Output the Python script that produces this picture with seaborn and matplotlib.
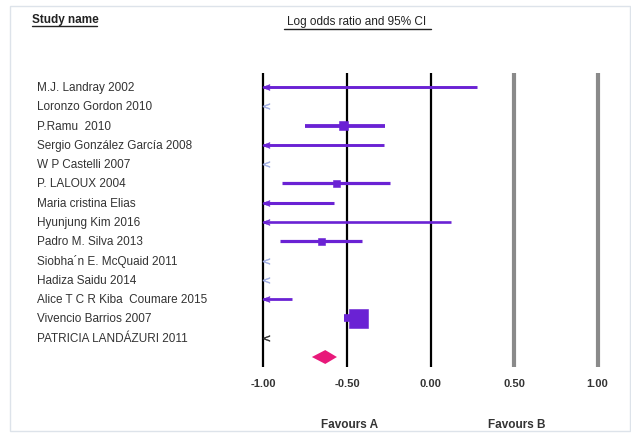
import matplotlib.pyplot as plt
import seaborn as sns
import numpy as np
import pandas as pd
from matplotlib.transforms import blended_transform_factory
from matplotlib.patches import Rectangle
from matplotlib.lines import Line2D

sns.set_style("white")
plt.rcParams['font.family'] = ['Liberation Sans', 'DejaVu Sans']

# study data (log odds ratio, 95% CI)
studies = ["M.J. Landray 2002", "Loronzo Gordon 2010", "P.Ramu  2010",
           "Sergio González García 2008", "W P Castelli 2007", "P. LALOUX 2004",
           "Maria cristina Elias", "Hyunjung Kim 2016", "Padro M. Silva 2013",
           "Siobha´n E. McQuaid 2011", "Hadiza Saidu 2014",
           "Alice T C R Kiba  Coumare 2015", "Vivencio Barrios 2007",
           "PATRICIA LANDÁZURI 2011"]
log_or = [-1.40, -2.00, -0.52, -1.30, -2.10, -0.56, -1.60, -1.20, -0.65,
          -2.20, -2.30, -1.50, -0.43, -2.50]
ci_low = [-3.00, -3.20, -0.75, -2.60, -3.30, -0.89, -2.80, -2.60, -0.90,
          -3.40, -3.50, -2.20, -0.52, -3.60]
ci_high = [0.28, -1.10, -0.27, -0.28, -1.20, -0.24, -0.58, 0.12, -0.41,
           -1.30, -1.40, -0.83, -0.38, -1.50]
weight = [2.2, 1.0, 3.5, 2.2, 1.0, 2.6, 2.4, 1.8, 2.6, 1.0, 1.0, 2.0, 9.0, 1.0]
summary_est, summary_low, summary_high = -0.63, -0.71, -0.56
ticks = [-1.0, -0.5, 0.0, 0.5, 1.0]
tick_labels = ["-1.00", "-0.50", "0.00", "0.50", "1.00"]

purple = "#6a22d4"
df = pd.DataFrame({"study": studies, "est": log_or, "lo": ci_low,
                   "hi": ci_high, "w": weight})
df["row"] = np.arange(len(df))

fig = plt.figure(figsize=(6.31, 4.35), dpi=100)
fig.patch.set_facecolor("white")
ax = fig.add_axes([230 / 631, 1 - 377.3 / 435, 401 / 631, 308.6 / 435])
ax.set_xlim(-1.2, 1.2)
ax.set_ylim(15.0, -1.0)

# reference lines
for t in ticks:
    if t <= 0:
        ax.vlines(t, -0.7, 14.5, color="black", lw=1.6, zorder=1)
    else:
        ax.vlines(t, -0.7, 14.5, color="#8a8a8a", lw=3, zorder=1)

# confidence intervals, clipped at -1 with an arrow
for _, r in df.iterrows():
    lo = max(r.lo, -1.0)
    hi = r.hi
    if hi > -1.0:
        ax.hlines(r.row, lo, hi, color=purple, lw=1.0 + r.w * 0.5, zorder=2)
    if r.lo < -1.0:
        c = "#222222" if r.row == 13 else ("#9aa8e0" if hi <= -1.0 else purple)
        ax.plot(-0.985, r.row, marker=r"$<$", ms=5, mew=0.3, color=c, zorder=3)

# point estimates inside the window
vis = df[df.est > -1.0]
sns.scatterplot(data=vis, x="est", y="row", marker="s", color=purple,
                size="w", sizes=(25, 190), legend=False, edgecolor=purple,
                zorder=4, ax=ax)
ax.set_xlim(-1.2, 1.2)
ax.set_ylim(15.0, -1.0)

# summary diamond
sr = 14
ax.fill([summary_low, summary_est, summary_high, summary_est],
        [sr, sr - 0.36, sr, sr + 0.36], color="#e8197a", zorder=4, lw=0)

ax.set_xticks(ticks)
ax.set_xticklabels(tick_labels, fontsize=8, fontweight="bold", color="#333333")
ax.tick_params(axis="x", length=0, pad=1)
ax.set_yticks([])
ax.set_xlabel("")
ax.set_ylabel("")
for s in ax.spines.values():
    s.set_visible(False)
ax.patch.set_alpha(0)

# study names
tr = blended_transform_factory(fig.transFigure, ax.transData)
for _, r in df.iterrows():
    ax.text(37 / 631, r.row, r.study, transform=tr, fontsize=8.5,
            color="#333333", va="center", ha="left")

# headers
fig.text(32 / 631, 1 - 20 / 435, "Study name", fontsize=8.5, fontweight="bold",
         color="#222222", va="center", ha="left")
fig.add_artist(Line2D([32 / 631, 97 / 631], [1 - 27 / 435] * 2,
                      color="#222222", lw=1))
fig.text(357 / 631, 1 - 22 / 435, "Log odds ratio and 95% CI", fontsize=8.5,
         color="#222222", va="center", ha="center")
fig.add_artist(Line2D([284 / 631, 431 / 631], [1 - 30 / 435] * 2,
                      color="#222222", lw=1))

fig.text(350 / 631, 1 - 425 / 435, "Favours A", fontsize=8.5, fontweight="bold",
         color="#333333", va="center", ha="center")
fig.text(517 / 631, 1 - 425 / 435, "Favours B", fontsize=8.5, fontweight="bold",
         color="#333333", va="center", ha="center")

# faint outer frame
fig.add_artist(Rectangle((10 / 631, 3 / 435), 620 / 631, 425 / 435,
                         transform=fig.transFigure, fill=False,
                         ec="#dde3ea", lw=1))

fig.savefig("out.png", dpi=100)
